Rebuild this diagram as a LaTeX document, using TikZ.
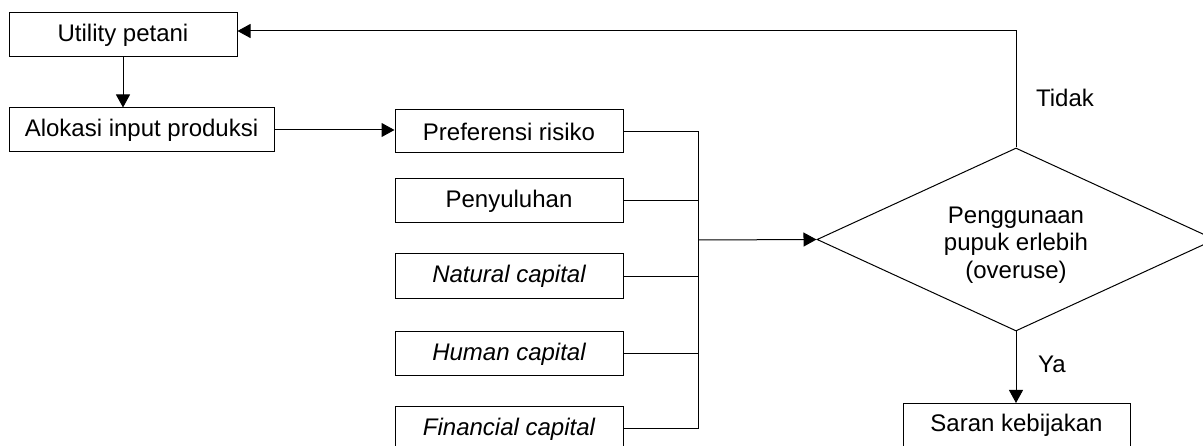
\documentclass[tikz,border=0pt]{standalone}
\usepackage{fontspec}
\setmainfont{Liberation Sans}
\usetikzlibrary{arrows.meta,shapes.geometric}
\begin{document}
\begin{tikzpicture}[x=1pt,y=-1pt, line width=1pt,
  box/.style={draw, rectangle, inner sep=0pt, minimum width=228pt, minimum height=44pt, font=\fontsize{24}{28}\selectfont},
  dia/.style={draw, diamond, aspect=2.175, inner sep=0pt, minimum width=398pt, minimum height=183pt},
  txt/.style={align=center, inner sep=0pt, font=\fontsize{24}{27.5}\selectfont},
  lbl/.style={font=\fontsize{24}{28}\selectfont, inner sep=0pt},
  arr/.style={-{Triangle[length=13pt,width=14pt]}}]
\useasboundingbox (0,0) rectangle (1203,446);
\clip (0,0) rectangle (1203,446);
\node[box] (util) at (123,35) {Utility petani};
\node[box, minimum width=265pt] (alok) at (141.5,130) {Alokasi input produksi};
\node[box, minimum height=43pt] (pref) at (509,131.5) {Preferensi risiko};
\node[box] (peny) at (509,201) {Penyuluhan};
\node[box, minimum height=45pt] (nat) at (509,276.5) {\itshape Natural capital};
\node[box] (hum) at (509,354) {\itshape Human capital};
\node[box] (fin) at (509,429) {\itshape Financial capital};
\node[box, minimum width=227pt] (saran) at (1016.5,425.5) {Saran kebijakan};
\node[dia] (pupuk) at (1016,239.5) {};
\node[txt] (pupuktxt) at (1016,245) {Penggunaan\\pupuk erlebih\\(overuse)};
\coordinate (bus) at (698,240);
\node[lbl] (tidak) at (1065,98) {Tidak};
\node[lbl] (ya) at (1052,364) {Ya};
\draw[arr] (util.south) -- (util.south |- alok.north);
\draw[arr] (alok.east) -- (alok.east -| pref.west);
\draw (pref.east) -- (pref.east -| bus) -- (fin.east -| bus) -- (fin.east);
\draw (peny.east) -- (peny.east -| bus);
\draw (nat.east) -- (nat.east -| bus);
\draw (hum.east) -- (hum.east -| bus);
\draw[arr] (bus) -- (pupuk.west);
\draw[arr] (pupuk.north) -- ([yshift=4pt]pupuk.north |- util.east) -- ([yshift=4pt]util.east);
\draw[arr] (pupuk.south) -- (pupuk.south |- saran.north);
\end{tikzpicture}
\end{document}
